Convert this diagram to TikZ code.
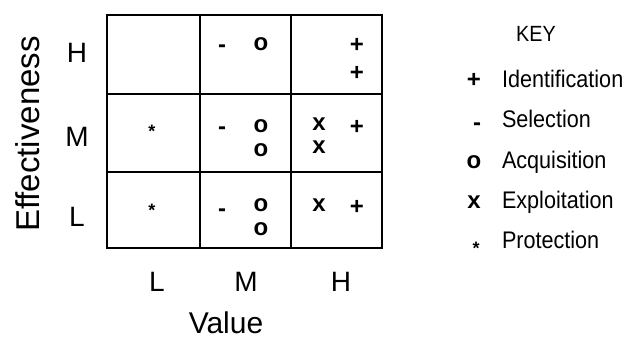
\documentclass[tikz,border=0pt]{standalone}
\usepackage{fontspec}
\setmainfont{Liberation Sans}
\newfontfamily\narrowfont{Liberation Sans}[FakeStretch=0.9]
\newcommand\lowstar{\raisebox{-5pt}{\fontsize{18}{18}\selectfont\bfseries *}}
\begin{document}
\begin{tikzpicture}[x=1pt,y=-1pt,
  every node/.style={inner sep=0pt, outer sep=0pt},
  gridline/.style={line width=2.8pt, line cap=rect},
  axislabel/.style={font=\fontsize{28}{28}\selectfont},
  axistitle/.style={font=\fontsize{30}{30}\selectfont},
  sym/.style={anchor=base, font=\fontsize{24}{24}\selectfont\bfseries},
  keytext/.style={anchor=base west, font=\narrowfont\fontsize{24}{24}\selectfont},
  keytitle/.style={font=\narrowfont\fontsize{22}{22}\selectfont}]
\useasboundingbox (0,0) rectangle (635,345);
% grid
\coordinate (tl) at (107,15);
\coordinate (br) at (382,248);
\draw[gridline] (tl) rectangle (br);
\draw[gridline] (200,15) -- (200,248);
\draw[gridline] (291,15) -- (291,248);
\draw[gridline] (107,94) -- (382,94);
\draw[gridline] (107,172) -- (382,172);
% axis labels
\node[axislabel] (rH) at (77,53) {H};
\node[axislabel] (rM) at (77,137) {M};
\node[axislabel] (rL) at (77,217) {L};
\node[axislabel] (cL) at (157,282) {L};
\node[axislabel] (cM) at (246,282) {M};
\node[axislabel] (cH) at (341,282) {H};
\node[axistitle, rotate=90, font=\fontsize{33}{33}\selectfont] (eff) at (28,134) {Effectiveness};
\node[axistitle] (val) at (226,323) {Value};
% cell symbols (y = glyph centre + 6)
\node[sym] (s1) at (222,53) {-};
\node[sym] (s2) at (261,51) {o};
\node[sym] (s3) at (357,53) {+};
\node[sym] (s4) at (357,81) {+};
\node[sym] (s5) at (152,132) {\lowstar};
\node[sym] (s6) at (222,134) {-};
\node[sym] (s7) at (261,132) {o};
\node[sym] (s8) at (261,156) {o};
\node[sym] (s9) at (319,130) {x};
\node[sym] (s10) at (319,153) {x};
\node[sym] (s11) at (357,134) {+};
\node[sym] (s12) at (152,211) {\lowstar};
\node[sym] (s13) at (222,216) {-};
\node[sym] (s14) at (261,211) {o};
\node[sym] (s15) at (261,235) {o};
\node[sym] (s16) at (319,211) {x};
\node[sym] (s17) at (357,214) {+};
% key
\node[keytitle] (key) at (536,34) {KEY};
\node[sym] (k1s) at (474,88) {+};
\node[keytext] (k1) at (502,88) {Identification};
\node[sym] (k2s) at (477,131) {-};
\node[keytext] (k2) at (502,128) {Selection};
\node[sym] (k3s) at (474,168) {o};
\node[keytext] (k3) at (502,168) {Acquisition};
\node[sym] (k4s) at (474,208) {x};
\node[keytext] (k4) at (502,208) {Exploitation};
\node[sym] (k5s) at (476,249) {\lowstar};
\node[keytext] (k5) at (502,248) {Protection};
\end{tikzpicture}
\end{document}
